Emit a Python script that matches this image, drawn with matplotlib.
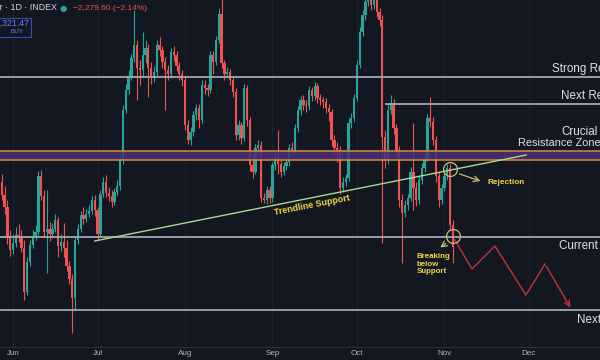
import matplotlib
matplotlib.use("Agg")
import matplotlib.pyplot as plt
import matplotlib.dates as mdates
import numpy as np
import pandas as pd

# daily candles, 2025-05-28 .. 2025-11-04 (price in thousands)
start_date = "2025-05-28"
first_open = 109.8
closes = [
    108.5, 107.3, 104.3, 103.0, 103.7, 104.5, 104.2, 103.2, 98.8, 101.8,
    103.5, 104.4, 104.8, 110.4, 108.4, 104.8, 105.1, 104.6, 105.1, 106.0,
    103.4, 103.8, 103.2, 101.4, 100.1, 98.2, 104.0, 105.1, 106.5, 106.1,
    106.6, 106.9, 108.0, 107.0, 104.6, 108.6, 109.8, 108.7, 108.4, 107.8,
    108.8, 109.4, 112.0, 117.0, 119.0, 120.4, 122.2, 123.5, 121.2, 121.0,
    122.5, 123.2, 121.2, 120.4, 120.8, 123.5, 123.0, 121.8, 121.0, 120.6,
    122.8, 122.5, 121.4, 120.6, 120.0, 115.5, 114.0, 114.8, 116.5, 117.2,
    116.0, 119.5, 119.2, 119.0, 122.5, 121.8, 124.0, 126.6, 121.7, 120.6,
    120.8, 120.0, 118.8, 114.5, 115.5, 114.2, 119.2, 116.0, 111.5, 110.8,
    113.2, 113.5, 108.2, 108.0, 109.0, 108.2, 111.5, 112.2, 111.6, 110.8,
    111.4, 111.8, 113.2, 113.0, 115.2, 117.0, 118.0, 117.5, 117.4, 119.0,
    118.4, 119.4, 118.2, 118.0, 117.8, 117.2, 116.8, 114.0, 113.2, 113.0,
    109.2, 109.8, 110.2, 115.7, 116.2, 118.2, 121.5, 124.8, 126.5, 127.8,
    128.8, 127.5, 128.2, 126.8, 126.0, 114.3, 112.0, 117.0, 117.7, 115.2,
    113.0, 108.0, 106.7, 107.5, 108.2, 110.8, 109.2, 108.0, 110.0, 111.2,
    112.2, 116.2, 115.8, 114.0, 110.4, 108.0, 109.2, 110.4, 111.2, 105.5, 103.3,
]
highs = [
    110.6, 109.4, 108.0, 105.0, 104.6, 105.3, 105.6, 105.0, 104.0, 102.3,
    104.0, 105.0, 105.5, 110.9, 111.0, 109.0, 109.0, 105.8, 105.7, 106.6,
    106.3, 104.6, 105.7, 104.0, 101.9, 100.6, 104.4, 105.6, 106.9, 107.3,
    107.1, 107.5, 108.4, 108.5, 107.3, 109.0, 110.3, 110.5, 109.3, 109.0,
    109.2, 110.0, 112.4, 117.5, 119.6, 121.0, 122.6, 127.0, 124.0, 122.0,
    124.8, 124.0, 123.6, 121.8, 121.4, 124.0, 124.3, 123.4, 122.3, 121.5,
    123.2, 123.4, 122.9, 121.8, 121.0, 120.4, 116.0, 115.3, 116.9, 117.6,
    117.6, 120.0, 120.0, 119.6, 122.9, 122.9, 124.4, 127.2, 128.6, 122.0,
    121.3, 121.1, 120.4, 119.2, 116.0, 115.8, 119.6, 119.5, 116.3, 112.6,
    113.6, 114.0, 113.9, 108.7, 109.4, 109.4, 111.8, 112.7, 115.0, 112.0,
    111.8, 112.2, 113.6, 113.8, 115.6, 117.4, 118.4, 118.5, 118.0, 119.4,
    119.3, 119.8, 119.7, 118.6, 118.3, 118.2, 117.6, 117.1, 114.5, 113.8,
    113.4, 110.3, 110.6, 116.2, 116.7, 118.6, 122.0, 125.3, 127.0, 128.4,
    129.4, 129.3, 130.0, 128.6, 127.2, 126.5, 115.0, 117.6, 118.5, 118.1,
    115.6, 113.4, 108.6, 108.0, 108.6, 111.3, 115.7, 109.8, 110.4, 111.7,
    112.6, 116.6, 118.3, 116.3, 114.4, 110.8, 109.6, 110.8, 111.6, 111.6, 106.0,
]
lows = [
    108.0, 106.6, 103.6, 102.4, 102.6, 103.3, 103.8, 102.8, 98.0, 98.5,
    101.4, 103.2, 104.0, 104.5, 108.0, 104.3, 100.7, 103.9, 104.2, 104.8,
    102.3, 102.9, 102.3, 100.9, 99.6, 94.7, 97.0, 103.6, 104.8, 105.6,
    105.8, 106.3, 106.6, 106.4, 104.0, 104.3, 108.3, 108.3, 107.9, 107.3,
    107.5, 108.5, 109.0, 111.6, 116.7, 118.6, 120.0, 121.8, 118.0, 119.5,
    120.4, 121.7, 118.3, 119.6, 119.8, 120.4, 122.4, 121.2, 117.0, 120.0,
    120.2, 121.9, 120.9, 120.0, 119.4, 115.0, 113.6, 113.5, 114.4, 116.0,
    115.2, 115.7, 118.6, 118.4, 118.7, 120.6, 121.5, 123.7, 121.2, 120.0,
    120.2, 119.5, 118.3, 114.0, 114.0, 113.6, 113.9, 115.4, 110.9, 110.2,
    110.6, 112.6, 107.8, 107.7, 107.6, 107.7, 107.8, 111.0, 110.6, 110.3,
    110.5, 111.0, 111.4, 112.5, 112.7, 114.8, 116.5, 117.0, 116.8, 117.0,
    117.9, 118.0, 117.7, 117.5, 117.2, 116.7, 115.9, 113.4, 112.5, 111.8,
    108.6, 108.8, 109.4, 109.9, 115.2, 115.8, 117.9, 121.2, 124.4, 126.0,
    127.4, 127.0, 127.1, 126.3, 125.4, 103.7, 111.2, 111.6, 116.6, 114.6,
    112.3, 107.3, 101.7, 106.3, 107.0, 107.9, 107.0, 107.4, 107.6, 109.6,
    110.8, 111.9, 115.3, 113.5, 109.8, 107.3, 107.6, 108.9, 110.0, 105.0, 101.7,
]

# levels drawn on the chart
strong_res = 120.3
next_res = 117.6
next_res_from = "2025-10-11"
zone_low, zone_high = 112.0, 112.9
current_sup = 104.3
next_sup = 97.0
trend_dates = ["2025-06-30", "2025-11-30"]
trend_prices = [103.9, 112.5]

# projected path
proj_dates = ["2025-11-04 17:00", "2025-11-10 19:00", "2025-11-18 22:00",
              "2025-11-29 22:00", "2025-12-06 17:00", "2025-12-16 05:00"]
proj_prices = [104.0, 101.1, 103.4, 98.5, 101.6, 97.0]

months = ["2025-06-01", "2025-07-01", "2025-08-01", "2025-09-01",
          "2025-10-01", "2025-11-01", "2025-12-01"]
month_labels = ["Jun", "Jul", "Aug", "Sep", "Oct", "Nov", "Dec"]

BG = "#131722"
UP = "#26a69a"
DOWN = "#ef5350"
YEL = "#f2d544"
KHAKI = "#c9bd6c"
LINE = "#a3a6ae"
FONT = ["Liberation Sans", "DejaVu Sans"]
plt.rcParams["font.family"] = FONT

d = mdates.datestr2num

fig = plt.figure(figsize=(6, 3.6), dpi=100, facecolor=BG)
ax = fig.add_axes([0, 13 / 360, 1, 347 / 360])
ax.set_facecolor(BG)

dates = mdates.date2num(pd.date_range(start_date, periods=len(closes)))
opens = np.array([first_open] + closes[:-1])
closes_a = np.array(closes)
up = closes_a >= opens
colors = np.where(up, UP, DOWN)

for x in [d(m) for m in months]:
    ax.axvline(x, color="#1c2130", lw=0.8, zorder=0)

ax.vlines(dates, lows, highs, colors=colors, lw=0.8, zorder=2)
body_lo = np.minimum(opens, closes_a)
body_h = np.maximum(np.abs(closes_a - opens), 0.08)
ax.bar(dates, body_h, bottom=body_lo, width=0.82, color=colors, lw=0, zorder=2)

# crucial resistance zone
ax.axhspan(zone_low, zone_high, color="#4b2f78", alpha=0.85, lw=0, zorder=3)
ax.axhline(zone_low, color="#d98a3a", lw=1.1, zorder=4)
ax.axhline(zone_high, color="#d98a3a", lw=1.1, zorder=4)

# horizontal levels
for lvl in [strong_res, current_sup, next_sup]:
    ax.axhline(lvl, color=LINE, lw=1.3, zorder=4)
ax.hlines(next_res, d(next_res_from), d("2026-01-10"), color=LINE, lw=1.3, zorder=4)

# trendline
ax.plot([d(t) for t in trend_dates], trend_prices, color="#a9d98f", lw=1.0, zorder=5)
ax.text(d("2025-09-15"), 107.5, "Trendline Support", color=YEL, fontsize=6.5,
        fontweight="bold", rotation=11, ha="center", va="center", zorder=6)

# rejection / breakdown markers
ax.plot([d("2025-11-03")], [111.1], marker="o", ms=10, mfc="none", mec=KHAKI, mew=0.9, zorder=6)
ax.plot([d("2025-11-04")], [104.4], marker="o", ms=10, mfc="none", mec=KHAKI, mew=0.9, zorder=6)
ax.annotate("", xy=(d("2025-11-14 17:00"), 109.8), xytext=(d("2025-11-05 10:00"), 110.7),
            arrowprops=dict(arrowstyle="->", color=KHAKI, lw=0.9), zorder=6)
ax.text(d("2025-11-16 10:00"), 109.8, "Rejection", color=YEL, fontsize=5.9,
        fontweight="bold", ha="left", va="center", zorder=6)
ax.annotate("", xy=(d("2025-10-29 17:00"), 103.1), xytext=(d("2025-11-02 07:00"), 103.8),
            arrowprops=dict(arrowstyle="->", color=KHAKI, lw=0.9), zorder=6)
ax.text(d("2025-10-22 07:00"), 102.7, "Breaking\nbelow\nSupport", color=YEL, fontsize=5.7,
        fontweight="bold", ha="left", va="top", linespacing=1.1, zorder=6)

# projected path
px = [d(t) for t in proj_dates]
ax.plot(px[:-1], proj_prices[:-1], color="#b3303c", lw=1.1, zorder=5)
ax.annotate("", xy=(px[-1], proj_prices[-1]), xytext=(px[-2], proj_prices[-2]),
            arrowprops=dict(arrowstyle="->", color="#b3303c", lw=1.1), zorder=5)

# level labels (run off the right edge like the original)
lab = dict(color="#dfe1e6", fontsize=8.4, va="center", zorder=6)
ax.text(d("2025-12-09 02:00"), 121.1, "Strong Resistance", ha="left", **lab)
ax.text(d("2025-12-12 07:00"), 118.4, "Next Resistance", ha="left", **lab)
ax.text(d("2025-12-25 06:00"), 114.8, "Crucial", ha="right", **lab)
ax.text(d("2025-12-26 12:00"), 113.7, "Resistance Zone", ha="right",
        **{**lab, "fontsize": 7.9})
ax.text(d("2025-12-11 14:00"), 103.4, "Current Support", ha="left", **lab)
ax.text(d("2025-12-17 22:00"), 96.0, "Next Support", ha="left", **lab)

ax.set_xlim(d("2025-06-01") - 4.61, d("2025-06-01") + 208.2)
ax.set_ylim(93.3, 128.0)
ax.set_xticks([d(m) for m in months])
ax.set_xticklabels(month_labels)
ax.tick_params(axis="x", length=0, pad=2.5, labelsize=5.8, labelcolor="#b2b5be")
ax.set_yticks([])
for s in ["top", "left", "right"]:
    ax.spines[s].set_visible(False)
ax.spines["bottom"].set_color("#2a2e39")

# header
fig.text(57 / 600, 1 - 8 / 360, "Bitcoin / U.S. Dollar · 1D · INDEX", color="#d1d4dc",
         fontsize=6.4, ha="right", va="center")
fig.text(63 / 600, 1 - 8 / 360, "●", color=UP, fontsize=6, ha="center", va="center",
         family="DejaVu Sans")
fig.text(73 / 600, 1 - 8 / 360, "−2,279.60 (−2.14%)", color=DOWN, fontsize=6,
         ha="left", va="center", family=FONT)
box = plt.Rectangle((-20 / 600, 1 - 37 / 360), 51 / 600, 19 / 360, transform=fig.transFigure,
                    facecolor=BG, edgecolor="#2f4fb0", lw=0.8)
fig.patches.append(box)
fig.text(29 / 600, 1 - 23 / 360, "104,321.47", color="#5b87ff", fontsize=6.3,
         ha="right", va="center")
fig.text(17 / 600, 1 - 31.5 / 360, "BUY", color="#5b87ff", fontsize=4.6,
         ha="center", va="center")

fig.savefig("out.png", dpi=100, facecolor=BG)
